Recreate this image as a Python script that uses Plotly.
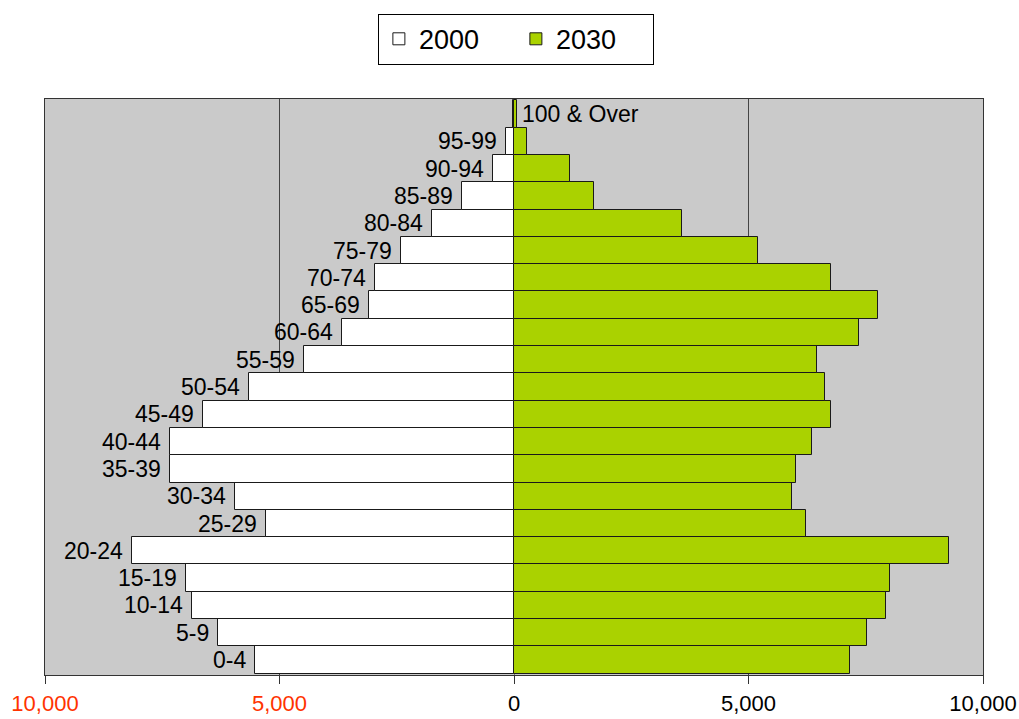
import plotly.graph_objects as go

age_groups = ["0-4", "5-9", "10-14", "15-19", "20-24", "25-29", "30-34", "35-39",
              "40-44", "45-49", "50-54", "55-59", "60-64", "65-69", "70-74", "75-79",
              "80-84", "85-89", "90-94", "95-99", "100 & Over"]
pop_2000 = [5530, 6305, 6875, 6995, 8140, 5290, 5945, 7325, 7325, 6635, 5655, 4480,
            3660, 3095, 2965, 2400, 1750, 1100, 450, 170, 30]
pop_2030 = [7155, 7530, 7935, 8015, 9280, 6225, 5930, 6015, 6345, 6750, 6630, 6465,
            7360, 7765, 6750, 5205, 3585, 1705, 1190, 280, 70]

tick_vals = [-10000, -5000, 0, 5000, 10000]
tick_text = ["<span style='color:#FF3300'>10,000</span>",
             "<span style='color:#FF3300'>5,000</span>",
             "0", "5,000", "10,000"]

FONT = "Liberation Sans, Arial, sans-serif"

fig = go.Figure()
fig.add_trace(go.Bar(
    y=age_groups, x=[-v for v in pop_2000], orientation="h", name="2000",
    marker=dict(color="white", line=dict(color="#1a1a1a", width=1)),
))
fig.add_trace(go.Bar(
    y=age_groups, x=pop_2030, orientation="h", name="2030",
    marker=dict(color="#AAD200", line=dict(color="#1a1a1a", width=1)),
))

annotations = []
for cat, v0, v1 in zip(age_groups, pop_2000, pop_2030):
    if cat == "100 & Over":
        annotations.append(dict(x=v1, y=cat, text=cat, showarrow=False,
                                xanchor="left", yanchor="middle", xshift=3,
                                font=dict(size=23, color="black", family=FONT)))
    else:
        annotations.append(dict(x=-v0, y=cat, text=cat, showarrow=False,
                                xanchor="right", yanchor="middle", xshift=-7,
                                font=dict(size=23, color="black", family=FONT)))

fig.update_layout(
    width=1019, height=719,
    margin=dict(l=45, r=36, t=99, b=44, autoexpand=False),
    paper_bgcolor="white", plot_bgcolor="#CACACA",
    barmode="relative", bargap=0,
    font=dict(family=FONT, size=23, color="black"),
    showlegend=True,
    legend=dict(orientation="h", x=0.502, xanchor="center", y=1.148, yanchor="top",
                bgcolor="white", bordercolor="black", borderwidth=1,
                font=dict(size=27, family=FONT), itemwidth=30,
                entrywidth=92, entrywidthmode="pixels"),
    annotations=annotations,
    xaxis=dict(range=[-10000, 10000], tickvals=tick_vals, ticktext=tick_text,
               automargin=False,
               showgrid=True, gridcolor="#444444", gridwidth=1,
               zeroline=True, zerolinecolor="#777777", zerolinewidth=1,
               showline=True, linecolor="#333333", linewidth=1, mirror=True,
               ticks="outside", ticklen=8, tickcolor="#333333",
               ticklabelstandoff=1,
               tickfont=dict(size=22, family=FONT, color="black")),
    yaxis=dict(categoryorder="array", categoryarray=age_groups,
               showticklabels=False, showgrid=False, automargin=False,
               showline=True, linecolor="#333333", linewidth=1, mirror=True),
)

fig.write_html("out.html")
